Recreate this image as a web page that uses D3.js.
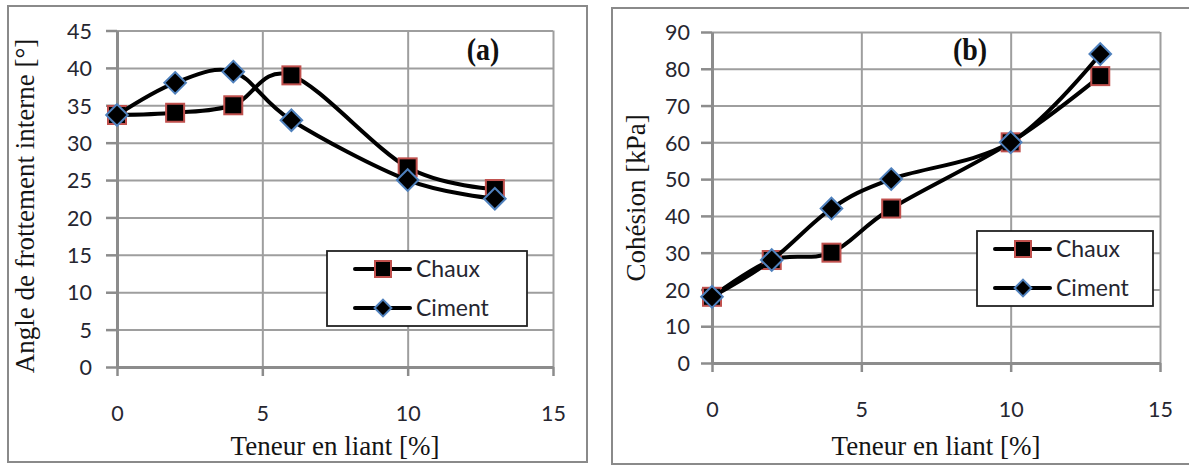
<!DOCTYPE html>
<html>
<head>
<meta charset="utf-8">
<script src="https://cdn.jsdelivr.net/npm/d3@7/dist/d3.min.js"></script>
<style>
	body { margin: 0; background: #fff; }
	.tick-label { font-family: Lato, "Open Sans", sans-serif; font-size: 21.5px; fill: #262630; }
	.axis-title { font-family: "Liberation Serif", "Times New Roman", serif; font-size: 27px; fill: #141414; }
	.panel-tag { font-family: "Liberation Serif", "Times New Roman", serif; font-size: 28px; font-weight: bold; fill: #111; }
	.legend-text { font-family: Lato, "Open Sans", sans-serif; font-size: 23px; fill: #262630; }
</style>
</head>
<body>
<div class="visualisation"></div>
<script>

//----------------------------------------------------------------------------------------------------------------------------
//DATA
//----------------------------------------------------------------------------------------------------------------------------
var teneur = [0, 2, 4, 6, 10, 13];

var angleChaux  = [33.7, 34, 35, 39, 26.7, 23.8];
var angleCiment = [33.7, 38, 39.5, 33, 25, 22.5];

var cohesionChaux  = [18, 28, 30, 42, 60, 78];
var cohesionCiment = [18, 28, 42, 50, 60, 84];

var xTicks        = [0, 5, 10, 15];
var angleTicks    = [0, 5, 10, 15, 20, 25, 30, 35, 40, 45];
var cohesionTicks = [0, 10, 20, 30, 40, 50, 60, 70, 80, 90];

var seriesNames = ["Chaux", "Ciment"];
var xTitle = "Teneur en liant [%]";

//----------------------------------------------------------------------------------------------------------------------------
//CANVAS
//----------------------------------------------------------------------------------------------------------------------------
var svg = d3.select(".visualisation").append("svg")
	.attr("width", 1189)
	.attr("height", 466);

svg.append("rect").attr("width", 1189).attr("height", 466).attr("fill", "#fff");

//marker drawing, square for Chaux and diamond for Ciment
function drawMarker(g, kind, cx, cy, size){
	if(kind == 0){
		g.append("rect")
			.attr("x", cx - size/2).attr("y", cy - size/2)
			.attr("width", size).attr("height", size)
			.attr("fill", "#000")
			.attr("stroke", "#c0504d")
			.attr("stroke-width", 2);
	} else {
		var r = size * 0.6;
		g.append("path")
			.attr("d", "M" + cx + "," + (cy - r) + "L" + (cx + r) + "," + cy + "L" + cx + "," + (cy + r) + "L" + (cx - r) + "," + cy + "Z")
			.attr("fill", "#000")
			.attr("stroke", "#4f81bd")
			.attr("stroke-width", 2);
	}
}

//----------------------------------------------------------------------------------------------------------------------------
//PANEL
//----------------------------------------------------------------------------------------------------------------------------
function drawPanel(cfg){
	var g = svg.append("g");

	//frame
	g.append("rect")
		.attr("x", cfg.frame[0]).attr("y", cfg.frame[1])
		.attr("width", cfg.frame[2] - cfg.frame[0]).attr("height", cfg.frame[3] - cfg.frame[1])
		.attr("fill", "#fff").attr("stroke", "#8a8a8a").attr("stroke-width", 2);

	var x = d3.scaleLinear().domain([0, 15]).range([cfg.left, cfg.right]);
	var y = d3.scaleLinear().domain([0, cfg.yMax]).range([cfg.bottom, cfg.top]);

	//gridlines
	g.append("g")
		.attr("transform", "translate(0," + cfg.bottom + ")")
		.call(d3.axisBottom(x).tickValues(xTicks).tickSize(-(cfg.bottom - cfg.top)).tickFormat(""))
		.call(function(a){ a.select(".domain").remove(); })
		.selectAll("line").attr("stroke", "#9e9e9e").attr("stroke-width", 2);

	g.append("g")
		.attr("transform", "translate(" + cfg.left + ",0)")
		.call(d3.axisLeft(y).tickValues(cfg.yTicks).tickSize(-(cfg.right - cfg.left)).tickFormat(""))
		.call(function(a){ a.select(".domain").remove(); })
		.selectAll("line").attr("stroke", "#9e9e9e").attr("stroke-width", 2);

	//axes with outside ticks
	var yAxis = g.append("g")
		.attr("transform", "translate(" + cfg.left + ",0)")
		.call(d3.axisLeft(y).tickValues(cfg.yTicks).tickSize(11).tickSizeOuter(0).tickPadding(cfg.yPad));
	var xAxis = g.append("g")
		.attr("transform", "translate(0," + cfg.bottom + ")")
		.call(d3.axisBottom(x).tickValues(xTicks).tickSize(9).tickSizeOuter(0).tickPadding(cfg.xPad));

	[yAxis, xAxis].forEach(function(a){
		a.select(".domain").attr("stroke", "#8c8c8c").attr("stroke-width", 3);
		a.selectAll("line").attr("stroke", "#8c8c8c").attr("stroke-width", 2.5);
		a.selectAll("text").attr("class", "tick-label").attr("font-family", null).attr("font-size", null).attr("fill", null);
	});
	yAxis.selectAll("text").attr("dy", "0.36em");

	//series
	var line = d3.line()
		.x(function(d){ return x(d[0]); })
		.y(function(d){ return y(d[1]); })
		.curve(d3.curveCardinal.tension(0));

	cfg.series.forEach(function(vals, i){
		var pts = teneur.map(function(t, j){ return [t, vals[j]]; });
		g.append("path")
			.datum(pts)
			.attr("d", line)
			.attr("fill", "none")
			.attr("stroke", "#000")
			.attr("stroke-width", 4)
			.attr("stroke-linejoin", "round");
		var mg = g.append("g");
		pts.forEach(function(p){ drawMarker(mg, i, x(p[0]), y(p[1]), 18); });
	});

	//titles
	g.append("text")
		.attr("class", "axis-title")
		.attr("x", (cfg.left + cfg.right) / 2)
		.attr("y", cfg.xTitleY)
		.attr("text-anchor", "middle")
		.text(xTitle);

	g.append("text")
		.attr("class", "axis-title")
		.attr("transform", "translate(" + cfg.yTitleX + "," + cfg.yTitleY + ") rotate(-90)")
		.attr("text-anchor", "middle")
		.text(cfg.yTitle);

	g.append("text")
		.attr("class", "panel-tag")
		.attr("transform", "translate(" + cfg.tag[0] + "," + cfg.tag[1] + ") scale(1,1.15)")
		.attr("text-anchor", "middle")
		.text(cfg.tagText);

	//legend
	var lg = g.append("g").attr("transform", "translate(" + cfg.legend[0] + "," + cfg.legend[1] + ")");
	lg.append("rect")
		.attr("width", cfg.legend[2]).attr("height", 75)
		.attr("fill", "#fff").attr("stroke", "#222").attr("stroke-width", 1.8);
	seriesNames.forEach(function(name, i){
		var ly = i == 0 ? 18 : 57;
		var x0 = cfg.legendPad;
		lg.append("line")
			.attr("x1", x0).attr("x2", x0 + 55)
			.attr("y1", ly).attr("y2", ly)
			.attr("stroke", "#000").attr("stroke-width", 4).attr("stroke-linecap", "round");
		drawMarker(lg, i, x0 + 28, ly, i == 0 ? 16 : 14);
		lg.append("text")
			.attr("class", "legend-text")
			.attr("x", x0 + 61)
			.attr("y", ly)
			.attr("dy", "0.36em")
			.text(name);
	});
}

drawPanel({
	frame: [8, 6, 587, 462],
	left: 117, right: 553, top: 30.5, bottom: 367,
	yMax: 45, yTicks: angleTicks, yPad: 14, xPad: 30,
	series: [angleChaux, angleCiment],
	xTitleY: 455,
	yTitle: "Angle de frottement interne [°]", yTitleX: 34, yTitleY: 206,
	tag: [483, 60], tagText: "(a)",
	legend: [327, 251, 200], legendPad: 28
});

drawPanel({
	frame: [612, 8, 1196, 464],
	left: 712, right: 1160, top: 32, bottom: 363,
	yMax: 90, yTicks: cohesionTicks, yPad: 11, xPad: 30,
	series: [cohesionChaux, cohesionCiment],
	xTitleY: 455,
	yTitle: "Cohésion [kPa]", yTitleX: 645, yTitleY: 198,
	tag: [970, 60], tagText: "(b)",
	legend: [977, 231, 176], legendPad: 18
});

</script>
</body>
</html>
